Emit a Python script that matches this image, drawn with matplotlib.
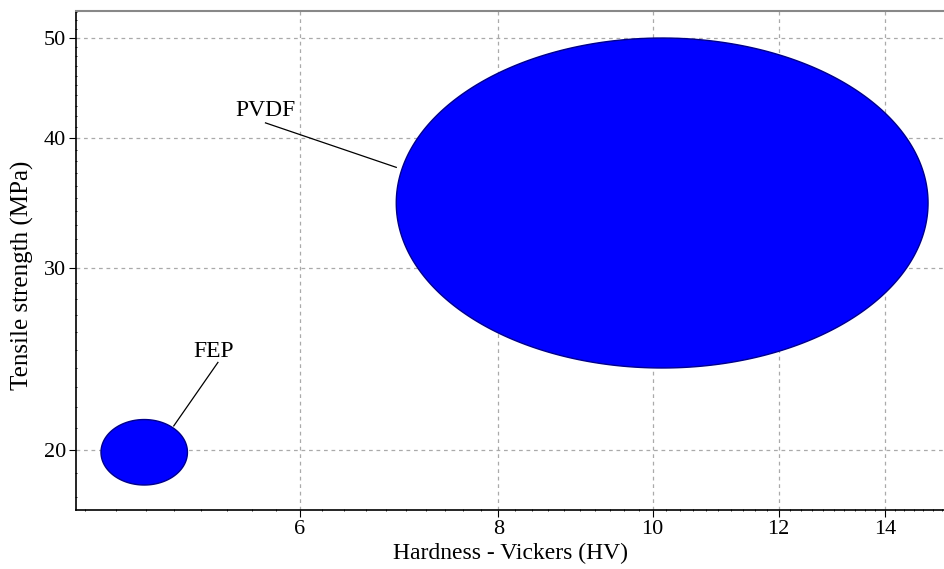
import numpy as np
import matplotlib
matplotlib.use("Agg")
import matplotlib.pyplot as plt
from matplotlib.ticker import FixedLocator, NullFormatter, MultipleLocator

# Data (ranges)
materials = ["PVDF", "FEP"]
hardness_low = [6.9, 4.5]
hardness_high = [14.9, 5.1]
tensile_low = [24.0, 18.5]
tensile_high = [50.0, 21.4]

x_ticks = [6, 8, 10, 12, 14]
y_ticks = [20, 30, 40, 50]

plt.rcParams['font.family'] = ['Liberation Serif', 'DejaVu Serif']

fig = plt.figure(figsize=(9.45, 5.69), dpi=100)
ax = fig.add_axes([0.0804, 0.1037, 0.9196, 0.877])
ax.set_xscale('log')
ax.set_yscale('log')
ax.set_xlim(4.34, 15.27)
ax.set_ylim(17.5, 53.1)

t = np.linspace(0, 2 * np.pi, 400)
for name, xl, xh, yl, yh in zip(materials, hardness_low, hardness_high, tensile_low, tensile_high):
    cx = (np.log10(xl) + np.log10(xh)) / 2
    rx = (np.log10(xh) - np.log10(xl)) / 2
    cy = (np.log10(yl) + np.log10(yh)) / 2
    ry = (np.log10(yh) - np.log10(yl)) / 2
    xs = 10 ** (cx + rx * np.cos(t))
    ys = 10 ** (cy + ry * np.sin(t))
    ax.fill(xs, ys, facecolor='#0000ff', edgecolor='#00008b', linewidth=1.0, zorder=3)

# labels with leader lines
ax.text(5.71, 42.6, "PVDF", fontsize=17, ha='center', va='center', zorder=4)
ax.plot([5.71, 6.90], [41.4, 37.5], color='black', lw=0.9, zorder=4)
ax.text(5.30, 24.9, "FEP", fontsize=17, ha='center', va='center', zorder=4)
ax.plot([5.33, 5.00], [24.3, 21.1], color='black', lw=0.9, zorder=4)

ax.xaxis.set_major_locator(FixedLocator(x_ticks))
ax.xaxis.set_major_formatter(plt.FixedFormatter([str(v) for v in x_ticks]))
ax.xaxis.set_minor_locator(MultipleLocator(0.2))
ax.xaxis.set_minor_formatter(NullFormatter())
ax.yaxis.set_major_locator(FixedLocator(y_ticks))
ax.yaxis.set_major_formatter(plt.FixedFormatter([str(v) for v in y_ticks]))
ax.yaxis.set_minor_locator(MultipleLocator(1))
ax.yaxis.set_minor_formatter(NullFormatter())

ax.tick_params(axis='both', which='major', labelsize=16, length=5, width=0.8, direction='out', pad=2)
ax.tick_params(axis='both', which='minor', length=2, width=0.6, direction='inout')

ax.grid(True, which='major', linestyle=(0, (3, 3)), color='#aaaaaa', linewidth=0.9, zorder=0)
ax.set_axisbelow(True)

ax.spines['right'].set_visible(False)
ax.spines['top'].set_color('#888888')
ax.spines['top'].set_linewidth(1.5)
ax.spines['left'].set_linewidth(1.2)
ax.spines['bottom'].set_linewidth(1.2)

ax.set_xlabel("Hardness - Vickers (HV)", fontsize=17, labelpad=3)
ax.set_ylabel("Tensile strength (MPa)", fontsize=18)
ax.yaxis.set_label_coords(-0.048, 0.47)

fig.savefig("out.png", dpi=100)
